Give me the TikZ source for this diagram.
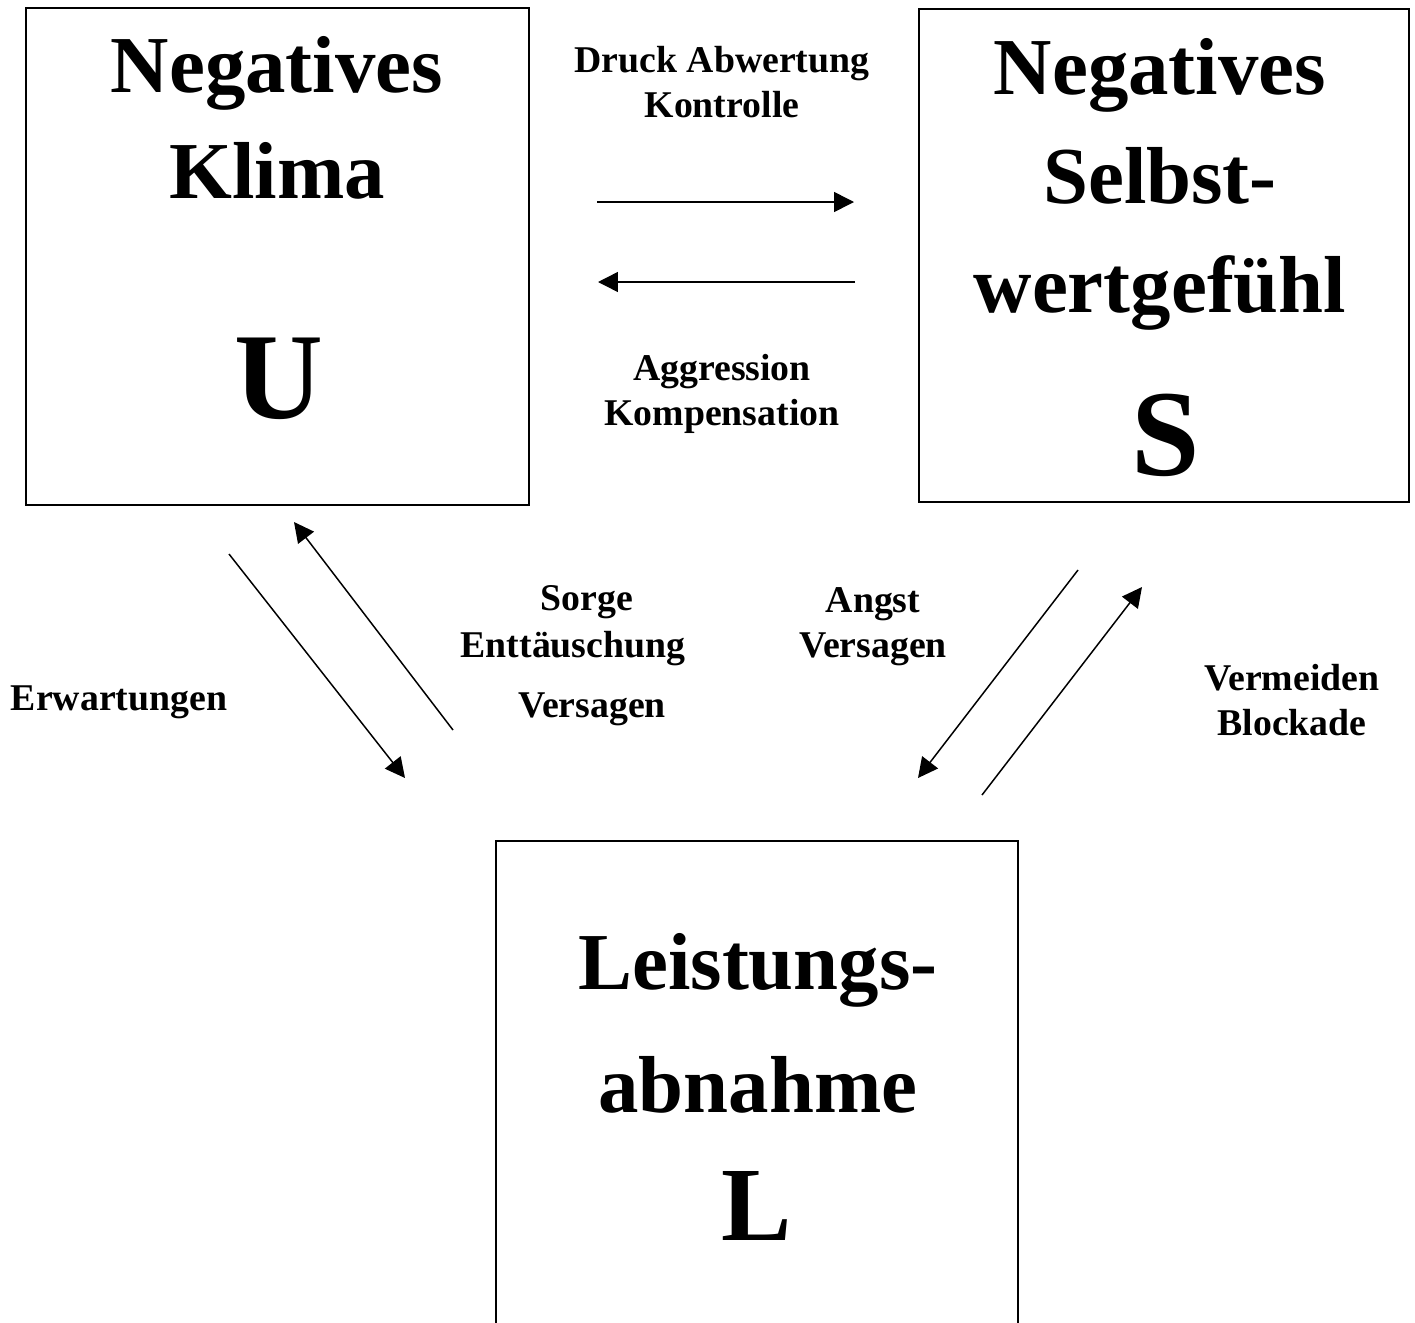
\documentclass[tikz,border=0pt]{standalone}
\usepackage{fontspec}
\setmainfont{Liberation Serif}
\usetikzlibrary{arrows.meta,fit}
\tikzset{>={Triangle[length=11.3pt,width=11.3pt]}}
\tikzset{
  box/.style={draw, line width=1.1pt, inner sep=0pt},
  big/.style={font=\fontsize{46}{#1}\selectfont\bfseries, align=center, anchor=base},
  big/.default=60,
  letter/.style={font=\fontsize{#1}{#1}\selectfont\bfseries, anchor=base},
  lbl/.style={font=\fontsize{21.5}{25.5}\selectfont\bfseries, align=center, anchor=base},
  link/.style={->, line width=0.85pt},
}

\begin{document}
\begin{tikzpicture}[x=0.02cm,y=-0.02cm]
        \useasboundingbox (0,0) rectangle (1415,1322);
        \clip (0,0) rectangle (1415,1322);
        % the three boxes
        \node[box, fit={(26,8) (529,505)}] (klima) {};
        \node[box, line width=0.8pt, fit={(919,9) (1409,502)}] (selbst) {};
        \node[box, fit={(496,841) (1018,1400)}] (leistung) {};
        % base = last line
        \node[big] (klimatxt) at (277,198) {Negatives\\Klima};
        \node[letter=70] (u) at (279,418) {U};
        \node[big=62] (selbsttxt) at (1160,312) {Negatives\\Selbst-\\wertgefühl};
        \node[letter=70] (s) at (1166,475) {S};
        \node[big=70] (leistungtxt) at (758,1112) {Leistungs-\\abnahme};
        \node[letter=60] (l) at (757,1240) {L};
        % labels
        \node[lbl] (druck) at (722,117) {Druck Abwertung\\Kontrolle};
        \node[lbl] (aggr) at (722,425) {Aggression\\Kompensation};
        \node[lbl] (sorge) at (587,610) {Sorge};
        \node[lbl] (entt) at (573,657) {Enttäuschung};
        \node[lbl] (versagenl) at (592,717) {Versagen};
        \node[lbl] (angst) at (873,657) {Angst\\Versagen};
        \node[lbl] (erw) at (119,710) {Erwartungen};
        \node[lbl] (verm) at (1292,735) {Vermeiden\\Blockade};
        % arrow ends
        \coordinate (us1) at (597,202);
        \coordinate (us2) at (854,202);
        \coordinate (su1) at (855,282);
        \coordinate (su2) at (598,282);
        \coordinate (ul1) at (229,554);
        \coordinate (ul2) at (405,778);
        \coordinate (lu1) at (453,730);
        \coordinate (lu2) at (294,522);
        \coordinate (sl1) at (1078,570);
        \coordinate (sl2) at (918,778);
        \coordinate (ls1) at (982,795);
        \coordinate (ls2) at (1142,587);
        \draw[link] (us1) -- (us2);
        \draw[link] (su1) -- (su2);
        \draw[link] (ul1) -- (ul2);
        \draw[link] (lu1) -- (lu2);
        \draw[link] (sl1) -- (sl2);
        \draw[link] (ls1) -- (ls2);
\end{tikzpicture}
\end{document}
